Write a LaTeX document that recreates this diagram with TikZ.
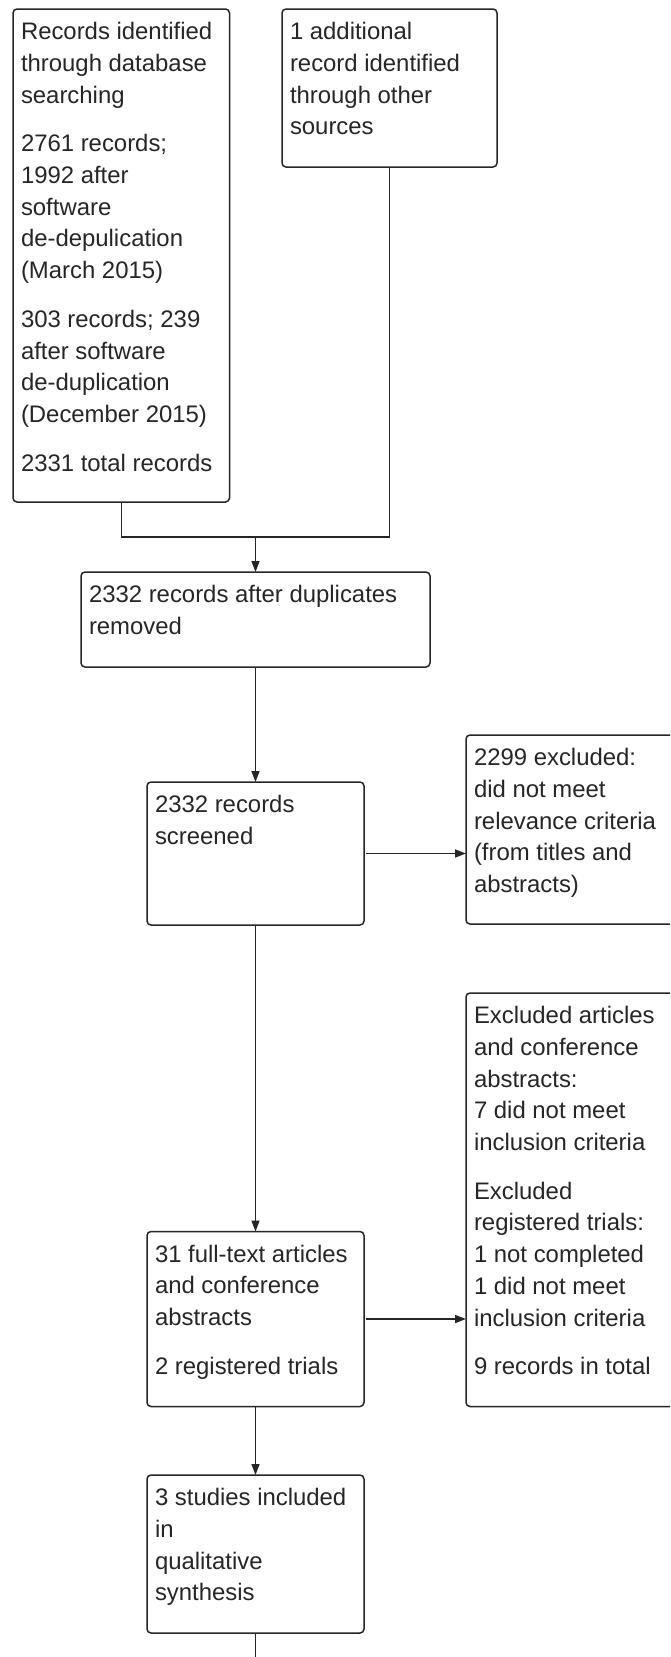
\documentclass[tikz,border=0pt]{standalone}
\usepackage{fontspec}
\setmainfont{Liberation Sans}
\usetikzlibrary{arrows.meta}

\newcommand{\boxtext}[3]{\parbox[c][#1][t]{#2}{\raggedright\rule{0pt}{30.7pt}#3}}

\tikzset{
  flowbox/.style={draw=black!85, line width=1.5pt, rounded corners=4pt,
    inner xsep=8pt, inner ysep=0pt, outer sep=0pt, anchor=north west,
    text=black!85, font=\fontsize{23.9pt}{31.7pt}\selectfont},
  flowline/.style={draw=black!85, line width=1.5pt},
  flowarrow/.style={flowline, -{Triangle[length=11pt,width=8pt]}}
}

\begin{document}
\begin{tikzpicture}[x=1pt,y=-1pt]

\useasboundingbox (0,0) rectangle (670,1657);
\clip (0,0) rectangle (670,1657);

\node[flowbox] (search) at (13,9) {\boxtext{493pt}{200.5pt}{Records identified\\through database\\searching\\[17pt]
  2761 records;\\1992 after\\software\\de-depulication\\(March 2015)\\[17pt]
  303 records; 239\\after software\\de-duplication\\(December 2015)\\[17pt]
  2331 total records}};
\node[flowbox] (other) at (282,9) {\boxtext{158pt}{199pt}{1 additional\\record identified\\through other\\sources}};

\node[flowbox] (dedup) at (81,572) {\boxtext{95pt}{333pt}{2332 records after duplicates\\removed}};

\node[flowbox] (screen) at (147,782) {\boxtext{143pt}{201pt}{2332 records\\screened}};
\node[flowbox] (excl) at (466,735) {\boxtext{189pt}{201pt}{2299 excluded:\\did not meet\\relevance criteria\\(from titles and\\abstracts)}};

\node[flowbox] (fulltext) at (147,1231.5) {\boxtext{175pt}{201pt}{31 full-text articles\\and conference\\abstracts\\[17pt]2 registered trials}};
\node[flowbox] (exclfull) at (466,993) {\boxtext{413.5pt}{201pt}{Excluded articles\\and conference\\abstracts:\\7 did not meet\\inclusion criteria\\[17pt]
  Excluded\\registered trials:\\1 not completed\\1 did not meet\\inclusion criteria\\[17pt]9 records in total}};

\node[flowbox] (incl) at (147,1475) {\boxtext{158pt}{201pt}{3 studies included\\in\\qualitative\\synthesis}};

\coordinate (join) at (255.5,537);
\coordinate (tail) at (255.5,1657);

\draw[flowline] (search.south) |- (join) -| (other.south);
\draw[flowarrow] (join) -- (dedup.north);
\draw[flowarrow] (dedup.south) -- (screen.north);
\draw[flowarrow, shorten <=2pt] (screen.east) -- (screen.east -| excl.west);
\draw[flowarrow] (screen.south) -- (fulltext.north);
\draw[flowarrow, shorten <=2pt] (fulltext.east) -- (fulltext.east -| exclfull.west);
\draw[flowarrow] (fulltext.south) -- (incl.north);
\draw[flowline] (incl.south) -- (tail);

\end{tikzpicture}
\end{document}
